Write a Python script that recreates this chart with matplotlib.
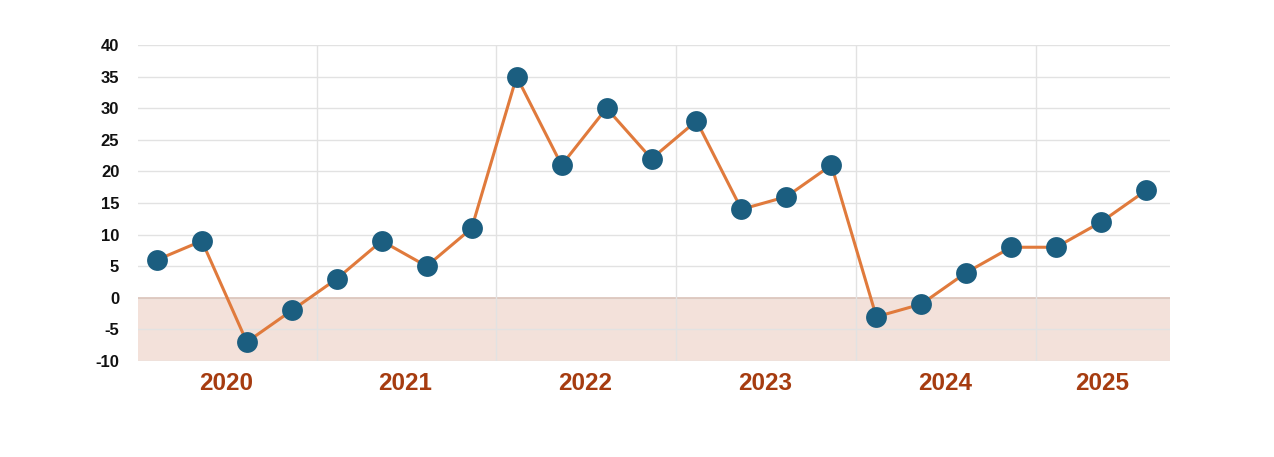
import matplotlib
matplotlib.use("Agg")
import matplotlib.pyplot as plt
import numpy as np

plt.rcParams['font.family'] = ['Liberation Sans', 'DejaVu Sans']

years = ["2020", "2021", "2022", "2023", "2024", "2025"]
quarters_per_year = [4, 4, 4, 4, 4, 3]
values = [6, 9, -7, -2,
          3, 9, 5, 11,
          35, 21, 30, 22,
          28, 14, 16, 21,
          -3, -1, 4, 8,
          8, 12, 17]
y_ticks = [-10, -5, 0, 5, 10, 15, 20, 25, 30, 35, 40]

line_color = "#e07a3c"
marker_color = "#1b5e80"
band_color = "#f3e1da"
year_color = "#a63c10"
grid_color = "#e2e2e2"

fig = plt.figure(figsize=(12.74, 4.57), dpi=100)
ax = fig.add_axes([138/1274, 1-361/457, (1170-138)/1274, (361-45)/457])

x = np.arange(len(values))
ax.set_xlim(-0.42, len(values) - 1 + 0.53)
ax.set_ylim(y_ticks[0], y_ticks[-1])

ax.axhspan(y_ticks[0], 0, color=band_color, zorder=0, lw=0)

for t in y_ticks:
    ax.axhline(t, color=grid_color, lw=1, zorder=1)
ax.axhline(0, color="#dcc4ba", lw=1.2, zorder=1)

starts = np.cumsum([0] + quarters_per_year)
for s in starts[1:-1]:
    ax.axvline(s - 0.45, color=grid_color, lw=1, zorder=1)

ax.plot(x, values, color=line_color, lw=2.2, zorder=3)
ax.plot(x, values, 'o', color=marker_color, markersize=15, zorder=4, markeredgewidth=0)

ax.set_yticks(y_ticks)
ax.set_yticklabels([str(t) for t in y_ticks], fontsize=12, fontweight='bold', color='#111111')
ax.tick_params(axis='y', length=0, pad=13.5)
ax.set_xticks([])
for sp in ax.spines.values():
    sp.set_visible(False)

for i, yr in enumerate(years):
    c = (starts[i] + starts[i+1] - 1) / 2
    ax.text(c + 0.03, -13.6, yr, ha='center', va='center', fontsize=17.5, fontweight='bold',
            color=year_color, clip_on=False)

fig.savefig("out.png", dpi=100)
